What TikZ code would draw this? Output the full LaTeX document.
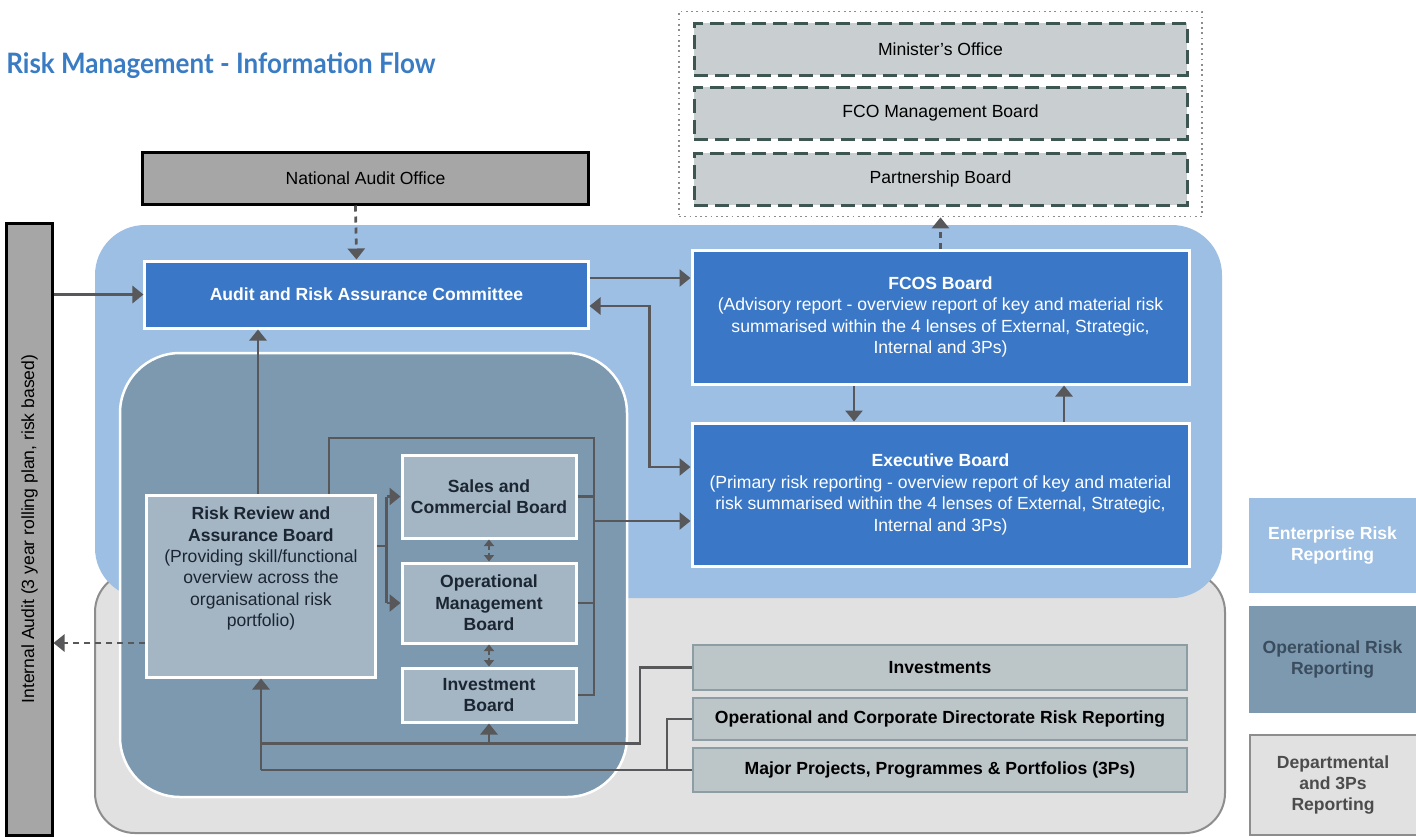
\documentclass[tikz,border=0pt]{standalone}
\usepackage{fontspec}
\setmainfont{Liberation Sans}
\newfontfamily\titlefont{Lato}
\usepackage{xcolor}
\usepackage{graphicx}
\usetikzlibrary{arrows.meta,positioning,fit}

\definecolor{entblue}{HTML}{9DBFE4}
\definecolor{opsteel}{HTML}{7D99AF}
\definecolor{deptgrey}{HTML}{E1E1E1}
\definecolor{deptedge}{HTML}{8D8D8D}
\definecolor{boardblue}{HTML}{3A78C7}
\definecolor{boardsteel}{HTML}{A4B5C4}
\definecolor{linkgrey}{HTML}{58585A}
\definecolor{reportgrey}{HTML}{BCC5C8}
\definecolor{reportedge}{HTML}{8C9DA3}
\definecolor{govgrey}{HTML}{C9CED1}
\definecolor{govedge}{HTML}{3E5652}
\definecolor{titleblue}{HTML}{3A7CC4}
\definecolor{auditgrey}{HTML}{A6A6A6}
\definecolor{inktext}{HTML}{1C2632}
\definecolor{opkeytext}{HTML}{3A4D5E}

\newcommand{\boxfont}{\fontsize{10}{12.2}\selectfont}

\begin{document}
\begin{tikzpicture}[x=0.2mm,y=-0.2mm,>={Triangle[length=2.2mm,width=3.4mm]},
    bluebox/.style={draw=white,line width=0.6mm,fill=boardblue,text=white,align=center,font=\boxfont},
    steelbox/.style={draw=white,line width=0.6mm,fill=boardsteel,text=inktext,align=center,font=\boxfont\bfseries,minimum width=34.8mm},
    reportbox/.style={draw=reportedge,line width=0.4mm,fill=reportgrey,font=\boxfont\bfseries,minimum width=98.8mm},
    govbox/.style={draw=govedge,line width=0.6mm,dash pattern=on 2.8mm off 1.4mm,fill=govgrey,font=\boxfont,minimum width=98.6mm,minimum height=10.4mm},
    keybox/.style={align=center,font=\boxfont\bfseries,minimum width=33.4mm,inner sep=0pt},
    link/.style={draw=linkgrey,line width=0.55mm},
    flow/.style={link,->},
    flowdash/.style={flow,dash pattern=on 1.2mm off 1mm}]

  \useasboundingbox (0,0) rectangle (1416,836);
  \fill[white] (0,0) rectangle (1416,836);

  % reporting levels
  \draw[fill=deptgrey,draw=deptedge,line width=0.4mm,rounded corners=8mm] (95,572) rectangle (1225,833);
  \fill[entblue,rounded corners=10mm] (95,225) rectangle (1222,598);
  \draw[fill=opsteel,draw=white,line width=0.5mm,rounded corners=12mm] (120,353) rectangle (627,797);

  \node[anchor=base west,inner xsep=0pt,text=titleblue,font=\titlefont\fontsize{16}{18}\selectfont\bfseries] (title) at (6,73)
    {\scalebox{0.925}[1]{Risk Management - Information Flow}};

  % government boards
  \node[govbox] (minister) at (940.5,49) {Minister's Office};
  \node[govbox,below=1.8mm of minister] (fcomb) {FCO Management Board};
  \node[govbox,below=2.2mm of fcomb] (partner) {Partnership Board};
  \node[draw=deptedge,dotted,line width=0.35mm,inner xsep=2.7mm,inner ysep=2mm,fit=(minister)(partner)] (gov) {};

  % audit
  \node[draw=black,line width=0.6mm,fill=auditgrey,font=\boxfont,minimum width=89mm,minimum height=10.4mm] (nao) at (365.5,178) {National Audit Office};
  \node[draw=black,line width=0.6mm,fill=auditgrey,font=\boxfont,minimum width=122.4mm,minimum height=9mm,rotate=90] (iaudit) at (29.5,529)
    {Internal Audit (3 year rolling plan, risk based)};

  % enterprise risk
  \node[bluebox,font=\boxfont\bfseries,minimum width=88.6mm,minimum height=13.4mm] (arac) at (366.5,294.5) {Audit and Risk Assurance Committee};
  \node[bluebox,minimum width=99.4mm,minimum height=26.8mm] (fcos) at (940.5,317)
    {\textbf{FCOS Board}\\(Advisory report - overview report of key and material risk\\summarised within the 4 lenses of External, Strategic,\\Internal and 3Ps)};
  \node[bluebox,minimum width=99.4mm,minimum height=28.6mm] (exec) at (940.5,494.5)
    {\textbf{Executive Board}\\(Primary risk reporting - overview report of key and material\\risk summarised within the 4 lenses of External, Strategic,\\Internal and 3Ps)};

  % operational risk
  \node[steelbox,minimum width=45.6mm,minimum height=36.4mm] (rrab) at (261,586) {};
  \node[align=center,text=inktext,font=\boxfont,inner sep=0pt,below=2.6mm of rrab.north] (rrabtext)
    {\textbf{Risk Review and}\\\textbf{Assurance Board}\\(Providing skill/functional\\overview across the\\organisational risk\\portfolio)};
  \node[steelbox,minimum height=16.6mm] (sales) at (489,496.5) {Sales and\\Commercial Board};
  \node[steelbox,minimum height=16mm] (opmb) at (489,603) {Operational\\Management\\Board};
  \node[steelbox,minimum height=10.8mm] (invb) at (489,695) {Investment\\Board};

  % departmental and 3Ps
  \node[reportbox,minimum height=9mm] (invest) at (940,667.5) {Investments};
  \node[reportbox,minimum height=8.4mm] (opcorp) at (940,719) {Operational and Corporate Directorate Risk Reporting};
  \node[reportbox,minimum height=8.8mm] (major) at (940,770) {Major Projects, Programmes \& Portfolios (3Ps)};

  % key
  \node[keybox,fill=entblue,text=white,minimum height=19mm] (entkey) at (1332.5,545.5) {Enterprise Risk\\Reporting};
  \node[keybox,fill=opsteel,text=opkeytext,minimum height=21.4mm] (opkey) at (1332.5,659.5) {Operational Risk\\Reporting};
  \node[keybox,draw=deptedge,line width=0.4mm,fill=deptgrey,text=black!70,minimum height=20mm] (deptkey) at (1333,785) {Departmental\\and 3Ps\\Reporting};

  % flows
  \draw[flowdash] ([xshift=-2mm]nao.south) -- ([xshift=-2mm]arac.north);
  \draw[flowdash] (fcos.north) -- (gov.south);
  \draw[flow] (iaudit.south |- arac.west) -- (arac.west);
  \draw[flowdash] ([yshift=-11.4mm]rrab.west) -- ([yshift=-11.4mm]rrab.west -| iaudit.south);
  \draw[flow] ([yshift=3.3mm]arac.east) -- ([yshift=3.3mm]arac.east -| fcos.west);
  \draw[flow,<->] ([yshift=-2.3mm]arac.east) -- ++(60,0) |- ([yshift=5.5mm]exec.west);
  \draw[flow] ([xshift=-17.3mm]fcos.south) -- ([xshift=-17.3mm]exec.north);
  \draw[flow] ([xshift=24.7mm]exec.north) -- ([xshift=24.7mm]fcos.south);
  \draw[flow] ([xshift=-0.6mm]rrab.north) -- ([xshift=-0.6mm]rrab.north |- arac.south);

  \coordinate (bus) at (594,438);
  \draw[link] ([xshift=13.6mm]rrab.north) |- (bus) -- (bus |- invb.east) -- (invb.east);
  \draw[link] (sales.east) -- (sales.east -| bus);
  \draw[link] (opmb.east) -- (opmb.east -| bus);
  \draw[flow] ([yshift=-5.3mm]exec.west -| bus) -- ([yshift=-5.3mm]exec.west);

  \draw[link] ([yshift=8mm]rrab.east) -- ++(10,0) coordinate (fork);
  \draw[link] (fork |- sales.west) -- (fork |- opmb.west);
  \draw[flow] (fork |- sales.west) -- (sales.west);
  \draw[flow] (fork |- opmb.west) -- (opmb.west);

  \tikzset{boardlink/.style={link,<->,line width=0.4mm,dash pattern=on 0.8mm off 0.6mm,>={Triangle[length=1.3mm,width=2mm]}}}
  \draw[boardlink] (sales.south) -- (opmb.north);
  \draw[boardlink] (opmb.south) -- (invb.north);

  \draw[link] (invest.west) -- ++(-52,0) -- ++(0,76) coordinate (low1) -- (low1 -| rrab.south);
  \draw[link] (major.west) -- ++(-25,0) coordinate (low2) -- (low2 -| rrab.south);
  \draw[link] (opcorp.west) -- ++(-25,0) -- (low2);
  \draw[flow] (low2 -| rrab.south) -- (rrab.south);
  \draw[flow] (low1 -| invb.south) -- (invb.south);
\end{tikzpicture}
\end{document}
